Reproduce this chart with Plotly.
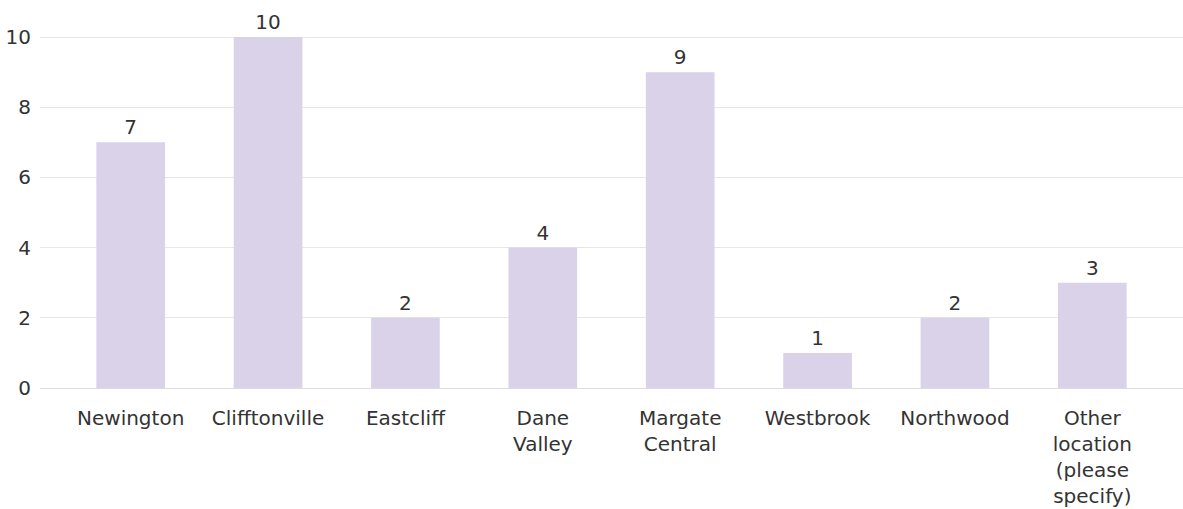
import plotly.graph_objects as go

categories = ["Newington", "Clifftonville", "Eastcliff", "Dane<br>Valley", "Margate<br>Central",
              "Westbrook", "Northwood", "Other<br>location<br>(please<br>specify)"]
counts = [7, 10, 2, 4, 9, 1, 2, 3]
y_ticks = [0, 2, 4, 6, 8, 10]

TEXT = "#333333"
FONT = "DejaVu Sans, Verdana, sans-serif"
SIZE = 20

fig = go.Figure(go.Bar(
    x=list(range(len(categories))),
    y=counts,
    marker=dict(color="#d9d2e9", line=dict(width=0)),
    text=[str(v) for v in counts],
    textposition="outside",
    textfont=dict(family=FONT, size=SIZE, color=TEXT),
    cliponaxis=False,
    width=0.5,
))

fig.update_layout(
    width=1183, height=509,
    margin=dict(l=40, r=0, t=23, b=121),
    plot_bgcolor="white", paper_bgcolor="white",
    font=dict(family=FONT, size=SIZE, color=TEXT),
    showlegend=False,
    xaxis=dict(
        tickmode="array",
        tickvals=list(range(len(categories))),
        ticktext=categories,
        range=[-0.66, 7.66],
        showgrid=False,
        showline=False,
        zeroline=False,
        ticks="outside", ticklen=12, tickcolor="rgba(0,0,0,0)",
        tickfont=dict(family=FONT, size=SIZE, color=TEXT),
        fixedrange=True,
    ),
    yaxis=dict(
        range=[0, 10.4],
        tickmode="array",
        tickvals=y_ticks,
        showgrid=True, gridcolor="#e6e6e6", gridwidth=1,
        zeroline=True, zerolinecolor="#dcdcdc", zerolinewidth=1,
        showline=False,
        ticks="outside", ticklen=4, tickcolor="rgba(0,0,0,0)",
        tickfont=dict(family=FONT, size=SIZE, color=TEXT),
        fixedrange=True,
    ),
)

fig.write_html("out.html")
